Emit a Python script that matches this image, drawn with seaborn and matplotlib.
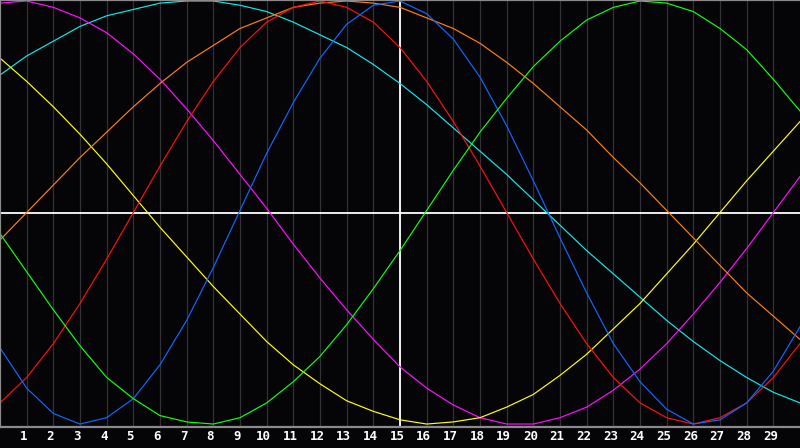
import pandas as pd
import matplotlib
matplotlib.use("Agg")
import matplotlib.pyplot as plt
import seaborn as sns
from matplotlib.transforms import ScaledTranslation

# values, x = 0..30
x = list(range(31))
cyan = [65, 74, 81, 88, 93, 96, 99, 100, 100, 98, 95, 90, 84, 78, 70, 61,
        51, 40, 29, 18, 6, -6, -18, -29, -40, -51, -61, -70, -78, -85, -90]
magenta = [99, 100, 97, 92, 85, 75, 63, 49, 34, 18, 2, -15, -31, -46, -60, -73,
           -83, -91, -97, -100, -100, -97, -92, -84, -74, -62, -48, -33, -17, 0, 17]
yellow = [73, 62, 50, 37, 23, 8, -7, -21, -35, -48, -61, -72, -81, -89, -94, -98,
          -100, -99, -97, -92, -86, -77, -67, -55, -43, -29, -15, 0, 15, 29, 43]
orange = [-13, 0, 13, 26, 38, 50, 61, 71, 79, 87, 92, 97, 99, 100, 99, 97,
          92, 87, 80, 71, 61, 50, 39, 26, 14, 1, -12, -25, -38, -49, -60]
red = [-90, -78, -62, -43, -22, 0, 22, 43, 62, 78, 90, 97, 100, 97, 90, 78,
       62, 43, 22, 0, -22, -43, -62, -78, -90, -97, -100, -97, -90, -78, -62]
blue = [-64, -83, -95, -100, -97, -88, -72, -51, -26, 1, 28, 52, 73, 89, 98, 100,
        94, 82, 64, 41, 15, -12, -38, -62, -80, -93, -100, -98, -90, -75, -54]
green = [-10, -28, -46, -63, -78, -88, -96, -99, -100, -97, -90, -80, -68, -53, -36, -18,
         1, 20, 38, 54, 69, 81, 91, 97, 100, 99, 95, 87, 77, 63, 48]

tick_labels = [str(i) for i in range(1, 30)]

series = {"cyan": cyan, "magenta": magenta, "yellow": yellow, "orange": orange,
          "red": red, "blue": blue, "green": green}
colors = {"cyan": "#10e8e8", "magenta": "#ff10ff", "yellow": "#ffff10",
          "orange": "#ff8010", "red": "#ff1010", "blue": "#1068ff", "green": "#10ff10"}

rows = []
for name, vals in series.items():
    for xi, v in zip(x, vals):
        rows.append({"x": xi, "v": v, "curve": name})
df = pd.DataFrame(rows)

bg = "#050508"
fig = plt.figure(figsize=(8, 4.48), dpi=100, facecolor=bg)
ax = fig.add_axes([0, 21 / 448, 1, 427 / 448])
ax.set_facecolor(bg)

# grid
for gx in range(1, 30):
    ax.axvline(gx, color="#323236", lw=0.9, zorder=0)
ax.axvline(15, color="white", lw=1.3, zorder=1)
ax.axhline(0, color="white", lw=1.3, zorder=1)

sns.lineplot(data=df, x="x", y="v", hue="curve", palette=colors, legend=False,
             linewidth=0.85, ax=ax, zorder=2)

ax.set_xlim(0, 30)
ax.set_ylim(-101.4, 100.47)
ax.set_xticks(range(1, 30))
ax.set_xticklabels(tick_labels, color="white", fontweight="bold",
                   fontsize=9, family="DejaVu Sans Mono")
ax.set_yticks([])
ax.tick_params(axis="x", length=0, pad=2.5)
for lab in ax.get_xticklabels():
    lab.set_transform(lab.get_transform() + ScaledTranslation(-3 / 100, 0, fig.dpi_scale_trans))
ax.set_xlabel("")
ax.set_ylabel("")

for side in ["left", "top", "bottom"]:
    ax.spines[side].set_color("#8a8a8a")
    ax.spines[side].set_linewidth(1.6)
ax.spines["right"].set_visible(False)

fig.savefig("out.png", dpi=100, facecolor=bg)
